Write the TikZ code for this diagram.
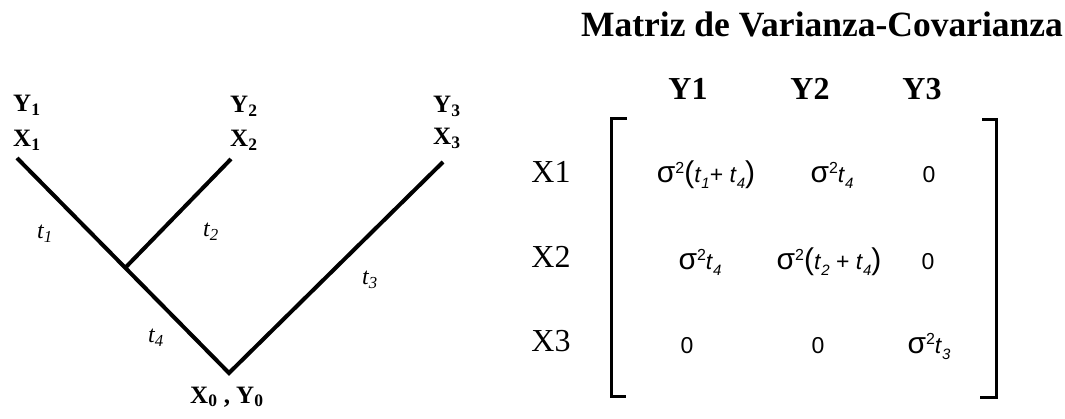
\documentclass[tikz,border=0pt]{standalone}
\usepackage{fontspec}
\setmainfont{Liberation Serif}
\newfontfamily\arialf{Liberation Sans}
\usepackage{tikz}

\newcommand\sigsq{{\fontsize{30}{30}\selectfont σ}\raisebox{9pt}{\fontsize{16}{16}\selectfont 2}}
\newcommand\tsub[1]{\textit{t}\raisebox{-6pt}{\fontsize{15}{15}\selectfont\textit{#1}}}
\newcommand\opar{{\fontsize{30}{30}\selectfont(}}
\newcommand\cpar{{\fontsize{30}{30}\selectfont)}}

\begin{document}
\begin{tikzpicture}[x=1pt,y=-1pt,
    branch/.style={line width=4pt},
    bracket/.style={line width=3pt},
    leaf/.style={font=\bfseries\fontsize{25}{26}\selectfont,anchor=base west,inner sep=0pt},
    tlab/.style={font=\itshape\fontsize{24}{26}\selectfont,anchor=base west,inner sep=0pt},
    head/.style={font=\bfseries\fontsize{32}{36}\selectfont,anchor=base,inner sep=0pt},
    rowlab/.style={font=\fontsize{32}{36}\selectfont,anchor=base,inner sep=0pt},
    entry/.style={font=\arialf\fontsize{23}{26}\selectfont,anchor=base,inner sep=0pt}]
  \useasboundingbox (0,0) rectangle (1065,419);
  \coordinate (a1) at (17,158);
  \coordinate (a2) at (231,159);
  \coordinate (a3) at (443,162);
  \coordinate (j) at (126,267);
  \coordinate (x0) at (229,373);
  \draw[branch] (a1) -- (x0) -- (a3);
  \draw[branch] (j) -- (a2);
  \node[leaf] (y1) at (13,112) {Y\textsubscript{1}};
  \node[leaf] (x1) at (13,147) {X\textsubscript{1}};
  \node[leaf] (y2) at (230,113) {Y\textsubscript{2}};
  \node[leaf] (x2) at (230,147) {X\textsubscript{2}};
  \node[leaf] (y3) at (433,113) {Y\textsubscript{3}};
  \node[leaf] (x3) at (433,145) {X\textsubscript{3}};
  \node[leaf] (root) at (190,403) {X\textsubscript{0} , Y\textsubscript{0}};
  \node[tlab] (t1) at (37,239) {t\textsubscript{1}};
  \node[tlab] (t2) at (203,237) {t\textsubscript{2}};
  \node[tlab] (t3) at (362,285) {t\textsubscript{3}};
  \node[tlab] (t4) at (148,343) {t\textsubscript{4}};

  \node[font=\bfseries\fontsize{35.5}{40}\selectfont,anchor=base,inner sep=0pt] (title) at (822,37) {Matriz de Varianza-Covarianza};
  \node[head] (cy1) at (688,100) {Y1};
  \node[head] (cy2) at (810,100) {Y2};
  \node[head] (cy3) at (922,100) {Y3};
  \node[rowlab] (rx1) at (551,183) {X1};
  \node[rowlab] (rx2) at (551,268) {X2};
  \node[rowlab] (rx3) at (551,352) {X3};
  \draw[bracket] (627,119) -- (611,119) -- (611,396) -- (626,396);
  \draw[bracket] (982,120) -- (996,120) -- (996,397) -- (980,397);
  \node[entry] (m11) at (706,183) {\sigsq\opar\tsub{1}+ \tsub{4}\cpar};
  \node[entry] (m12) at (832,183) {\sigsq\tsub{4}};
  \node[entry] (m13) at (929,183) {0};
  \node[entry] (m21) at (700,270) {\sigsq\tsub{4}};
  \node[entry] (m22) at (829,270) {\sigsq\opar\tsub{2} + \tsub{4}\cpar};
  \node[entry] (m23) at (928,270) {0};
  \node[entry] (m31) at (687,353) {0};
  \node[entry] (m32) at (818,353) {0};
  \node[entry] (m33) at (929,353) {\sigsq\tsub{3}};
\end{tikzpicture}
\end{document}
